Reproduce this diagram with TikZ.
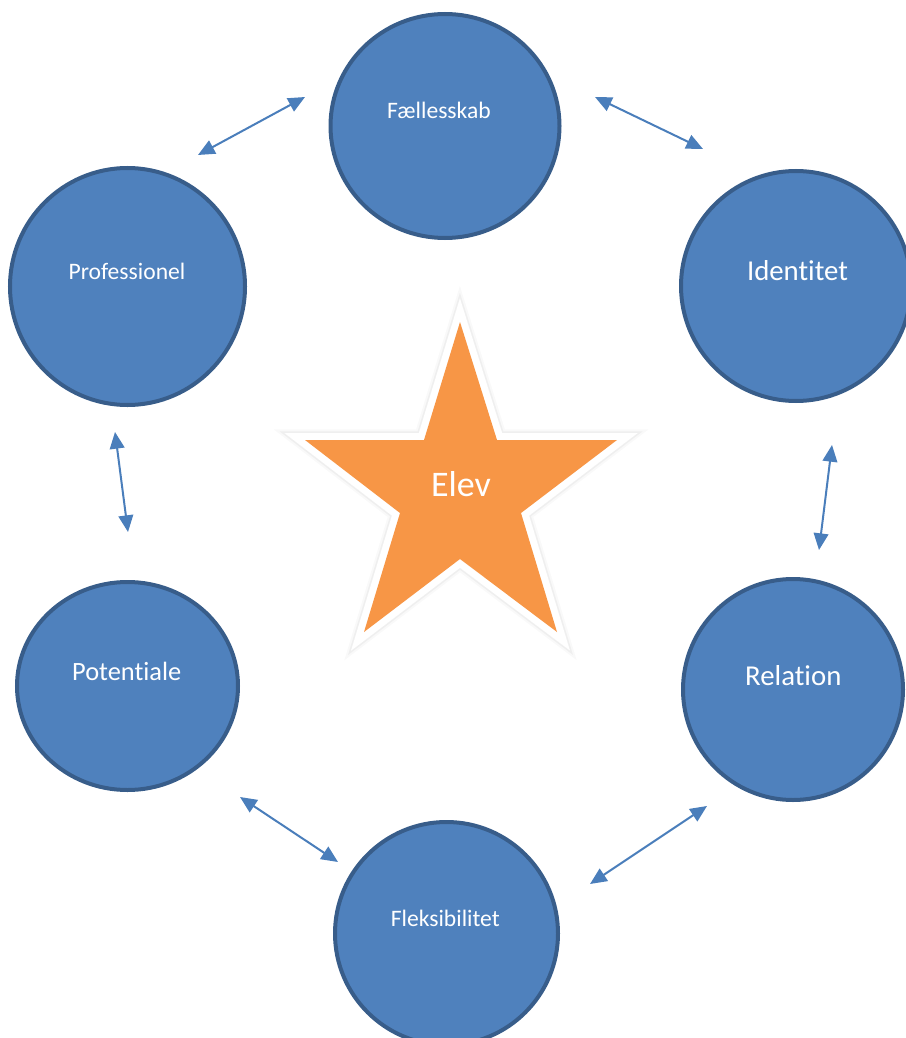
\documentclass[tikz,border=0pt]{standalone}
\usepackage{fontspec}
\setmainfont{Carlito}[RawFeature={-liga,-clig,-calt,-rlig,-dlig}]
\usetikzlibrary{arrows.meta,shapes.geometric}
\definecolor{cfill}{HTML}{4F81BD}
\definecolor{cline}{HTML}{385D8A}
\definecolor{carrow}{HTML}{4A7EBB}
\definecolor{cstar}{HTML}{F79646}
\begin{document}
\begin{tikzpicture}[x=0.75pt,y=-0.75pt,
  ring/.style={ellipse,fill=cfill,draw=cline,line width=3pt,inner sep=0pt},
  lbl/.style={text=white,anchor=base,inner sep=0pt},
  small/.style={font=\fontsize{17.7}{20}\selectfont},
  big/.style={font=\fontsize{21.6}{24}\selectfont},
  link/.style={draw=carrow,line width=1.5pt,{Triangle[length=12.5pt,width=11pt]}-{Triangle[length=12.5pt,width=11pt]}},
  starpath/.style={line join=miter,miter limit=20}]
\useasboundingbox (0,0) rectangle (906,1038);

% circles
\node[ring,minimum width=171.75pt,minimum height=168pt] (F) at (445,126) {};
\node[ring,minimum width=176.25pt,minimum height=177.75pt] (P) at (127.5,286.5) {};
\node[ring,minimum width=172.5pt,minimum height=172.5pt] (I) at (796,286) {};
\node[ring,minimum width=165pt,minimum height=165.75pt] (R) at (793,689.5) {};
\node[ring,minimum width=165.75pt,minimum height=156pt] (Po) at (127.5,686) {};
\node[ring,minimum width=167.25pt,minimum height=167.25pt] (Fl) at (446.5,933.5) {};

% labels
\node[lbl,small] (tF) at (439,119) {Fællesskab};
\node[lbl,small] (tP) at (127,279) {Professionel};
\node[lbl,big] (tI) at (797.5,280) {Identitet};
\node[lbl,big] (tR) at (793.3,685) {Relation};
\node[lbl,font=\fontsize{19.8}{22}\selectfont] (tPo) at (126.7,680) {Potentiale};
\node[lbl,small] (tFl) at (445.3,926) {Fleksibilitet};

% star
\coordinate (s1) at (460,322);
\coordinate (s2) at (497,440);
\coordinate (s3) at (617,440);
\coordinate (s4) at (521,513);
\coordinate (s5) at (557,632);
\coordinate (s6) at (460,559);
\coordinate (s7) at (364,632);
\coordinate (s8) at (400,513);
\coordinate (s9) at (305,440);
\coordinate (s10) at (424,440);
\begin{scope}[shift={(1.5,4.5)}]
\draw[starpath,draw=black,opacity=0.025,line width=16pt] (s1)--(s2)--(s3)--(s4)--(s5)--(s6)--(s7)--(s8)--(s9)--(s10)--cycle;
\draw[starpath,draw=black,opacity=0.04,line width=13pt] (s1)--(s2)--(s3)--(s4)--(s5)--(s6)--(s7)--(s8)--(s9)--(s10)--cycle;
\end{scope}
\draw[starpath,draw=white,line width=10.5pt] (s1)--(s2)--(s3)--(s4)--(s5)--(s6)--(s7)--(s8)--(s9)--(s10)--cycle;
\fill[starpath,cstar] (s1)--(s2)--(s3)--(s4)--(s5)--(s6)--(s7)--(s8)--(s9)--(s10)--cycle;
\node[lbl,font=\fontsize{27}{30}\selectfont] (elev) at (461,496) {Elev};

% arrows
\coordinate (a1) at (305,97);  \coordinate (a2) at (198,155);
\coordinate (b1) at (595,97);  \coordinate (b2) at (703,149);
\coordinate (c1) at (832,445); \coordinate (c2) at (819,550);
\coordinate (d1) at (115,432); \coordinate (d2) at (128,532);
\coordinate (e1) at (240,797); \coordinate (e2) at (338,862);
\coordinate (f1) at (590,884); \coordinate (f2) at (707,806);
\draw[link] (a1) -- (a2);
\draw[link] (b1) -- (b2);
\draw[link] (c1) -- (c2);
\draw[link] (d1) -- (d2);
\draw[link] (e1) -- (e2);
\draw[link] (f1) -- (f2);
\end{tikzpicture}
\end{document}
